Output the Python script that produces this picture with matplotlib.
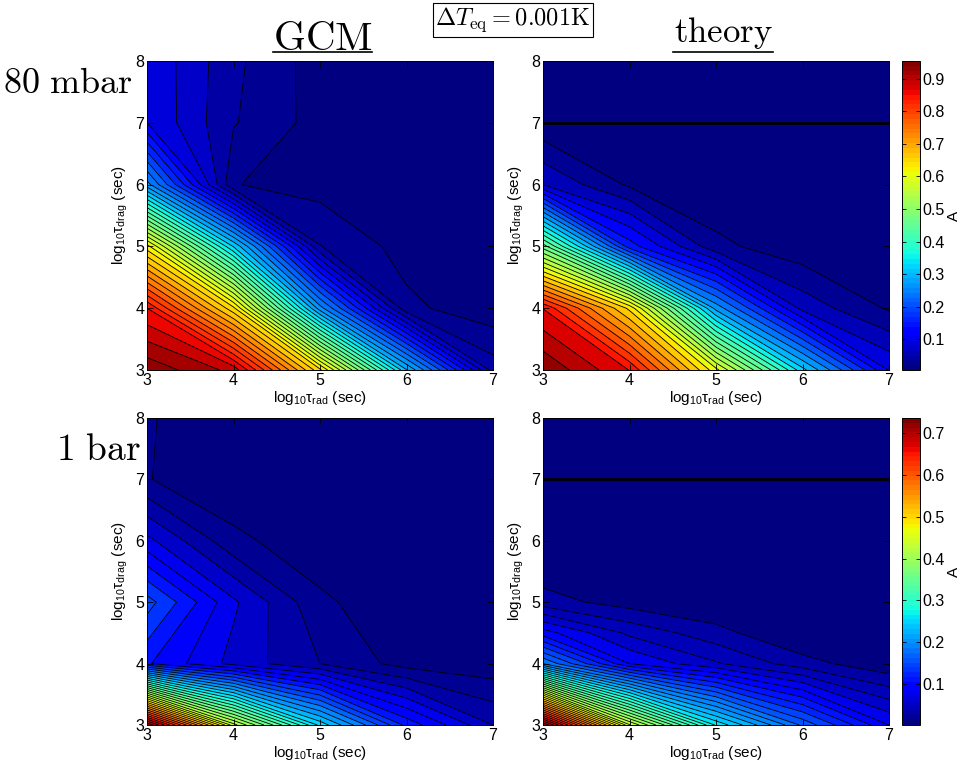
import numpy as np
import matplotlib as mpl
mpl.use('agg')
import matplotlib.pyplot as plt
from matplotlib.lines import Line2D

mpl.rcParams['font.family'] = ['Liberation Sans', 'DejaVu Sans']
mpl.rcParams['mathtext.fontset'] = 'custom'
mpl.rcParams['mathtext.rm'] = 'Liberation Sans'
mpl.rcParams['mathtext.it'] = 'Liberation Sans:italic'
mpl.rcParams['mathtext.bf'] = 'Liberation Sans:bold'
mpl.rcParams['axes.linewidth'] = 0.7

# log10 of the timescales (sec)
log_trad = [3, 4, 5, 6, 7]
log_tdrag = [3, 4, 5, 6, 7, 8]
log_tdrag_th1 = [3, 4, 4.5, 5, 6, 7, 8]

# amplitude A, rows follow log_tdrag, columns follow log_trad
A_gcm_80mbar = [
    [0.960, 0.910, 0.660, 0.320, 0.067],
    [0.870, 0.660, 0.280, 0.036, 0.014],
    [0.640, 0.340, 0.055, 0.020, 0.018],
    [0.280, 0.031, 0.020, 0.018, 0.018],
    [0.126, 0.056, 0.020, 0.018, 0.018],
    [0.123, 0.060, 0.018, 0.018, 0.018],
]
A_theory_80mbar = [
    [0.955, 0.870, 0.620, 0.330, 0.115],
    [0.870, 0.660, 0.280, 0.078, 0.026],
    [0.480, 0.160, 0.038, 0.010, 0.008],
    [0.088, 0.025, 0.005, 0.005, 0.005],
    [0.007, 0.005, 0.005, 0.005, 0.005],
    [0.005, 0.005, 0.005, 0.005, 0.005],
]
A_gcm_1bar = [
    [0.730, 0.440, 0.260, 0.130, 0.062],
    [0.120, 0.074, 0.0435, 0.017, 0.0127],
    [0.163, 0.084, 0.029, 0.010, 0.010],
    [0.086, 0.030, 0.012, 0.011, 0.010],
    [0.026, 0.010, 0.010, 0.010, 0.010],
    [0.027, 0.010, 0.010, 0.010, 0.010],
]
A_theory_1bar = [
    [0.737, 0.440, 0.270, 0.170, 0.091],
    [0.190, 0.091, 0.060, 0.032, 0.012],
    [0.0986, 0.054, 0.031, 0.008, 0.004],
    [0.0322, 0.0175, 0.010, 0.004, 0.002],
    [0.001, 0.001, 0.001, 0.001, 0.001],
    [0.001, 0.001, 0.001, 0.001, 0.001],
    [0.001, 0.001, 0.001, 0.001, 0.001],
]
tdrag_limit = 7   # theory drawn only up to here

cmap = plt.get_cmap('jet', 64)

W, H = 966., 765.
def fx(px): return px / W
def fy(py): return 1 - py / H


def contour_panel(ax, ydat, z, lev0, dlev, vmin, vmax):
    z = np.asarray(z, dtype=float)
    lines = np.arange(lev0, z.max() - 1e-6, dlev)
    bounds = np.concatenate([[z.min()], lines, [z.max()]])
    norm = mpl.colors.Normalize(vmin=vmin, vmax=vmax)
    fills = [cmap(norm(b)) for b in bounds[:-1]]
    ax.contourf(log_trad, ydat, z, levels=bounds, colors=fills)
    ax.contour(log_trad, ydat, z, levels=lines, colors='k', linewidths=0.6)
    ax.set_xlim(3, 7)
    ax.set_ylim(3, 8)
    ax.set_xticks(log_trad)
    ax.set_yticks([3, 4, 5, 6, 7, 8])
    ax.tick_params(direction='in', top=True, right=True, length=4,
                   width=0.6, labelsize=11.5, pad=2)
    ax.set_xlabel('log$_{10}$τ$_{\\rm rad}$ (sec)', fontsize=11, labelpad=1)
    ax.set_ylabel('log$_{10}$τ$_{\\rm drag}$ (sec)', fontsize=11, labelpad=4)
    return norm


fig = plt.figure(figsize=(9.66, 7.65), dpi=100)

top_b, top_h = fy(370), 309 / H
bot_b, bot_h = fy(725), 307 / H
left_l, right_l, ax_w = fx(147), fx(543), 346 / W
cb_l, cb_w = fx(902), 18 / W

ax1 = fig.add_axes([left_l, top_b, ax_w, top_h])
ax2 = fig.add_axes([right_l, top_b, ax_w, top_h])
ax3 = fig.add_axes([left_l, bot_b, ax_w, bot_h])
ax4 = fig.add_axes([right_l, bot_b, ax_w, bot_h])
cax1 = fig.add_axes([cb_l, top_b, cb_w, top_h])
cax2 = fig.add_axes([cb_l, bot_b, cb_w, bot_h])

z = np.asarray(A_gcm_80mbar)
contour_panel(ax1, log_tdrag, z, 0.03, 0.024, z.min(), z.max())
z = np.asarray(A_theory_80mbar)
n2 = contour_panel(ax2, log_tdrag, z, 0.03, 0.029, z.min(), z.max())
z = np.asarray(A_gcm_1bar)
contour_panel(ax3, log_tdrag, z, 0.025, 0.0185, z.min(), z.max())
z = np.asarray(A_theory_1bar)
n4 = contour_panel(ax4, log_tdrag_th1, z, 0.025, 0.0165, z.min(), z.max())

for ax in (ax2, ax4):
    ax.axhline(tdrag_limit, color='k', lw=2.0)

for cax, norm, ticks in ((cax1, n2, np.arange(0.1, 0.95, 0.1)),
                         (cax2, n4, np.arange(0.1, 0.75, 0.1))):
    sm = mpl.cm.ScalarMappable(norm=norm, cmap=cmap)
    cb = fig.colorbar(sm, cax=cax)
    cb.set_ticks(ticks)
    cb.set_ticklabels(['%.1f' % t for t in ticks])
    cb.outline.set_linewidth(0.7)
    cax.tick_params(direction='in', left=True, right=True, length=3,
                    width=0.6, labelsize=11.5, pad=2)
    cb.set_label('A', fontsize=11, rotation=90, labelpad=1)

# column and row headings
fig.text(fx(322.5), fy(50), r'$\mathrm{GCM}$', fontsize=29.5,
         math_fontfamily='cm', ha='center', va='baseline')
fig.text(fx(723), fy(42), r'$\mathrm{theory}$', fontsize=25,
         math_fontfamily='cm', ha='center', va='baseline')
for x0, x1 in ((273, 372), (673, 773)):
    fig.add_artist(Line2D([fx(x0), fx(x1)], [fy(52), fy(52)],
                          color='k', lw=1.2))
fig.text(fx(133), fy(93), r'$\mathrm{80\ mbar}$', fontsize=26,
         math_fontfamily='cm', ha='right', va='baseline')
fig.text(fx(141), fy(460), r'$\mathrm{1\ bar}$', fontsize=27,
         math_fontfamily='cm', ha='right', va='baseline')
fig.text(fx(513), fy(20), r'$\Delta T_{\rm eq} = 0.001{\rm K}$', fontsize=17.5,
         math_fontfamily='cm', ha='center', va='center',
         bbox=dict(boxstyle='square,pad=0.12', fc='white', ec='k', lw=0.8))

fig.savefig('out.png', dpi=100)
